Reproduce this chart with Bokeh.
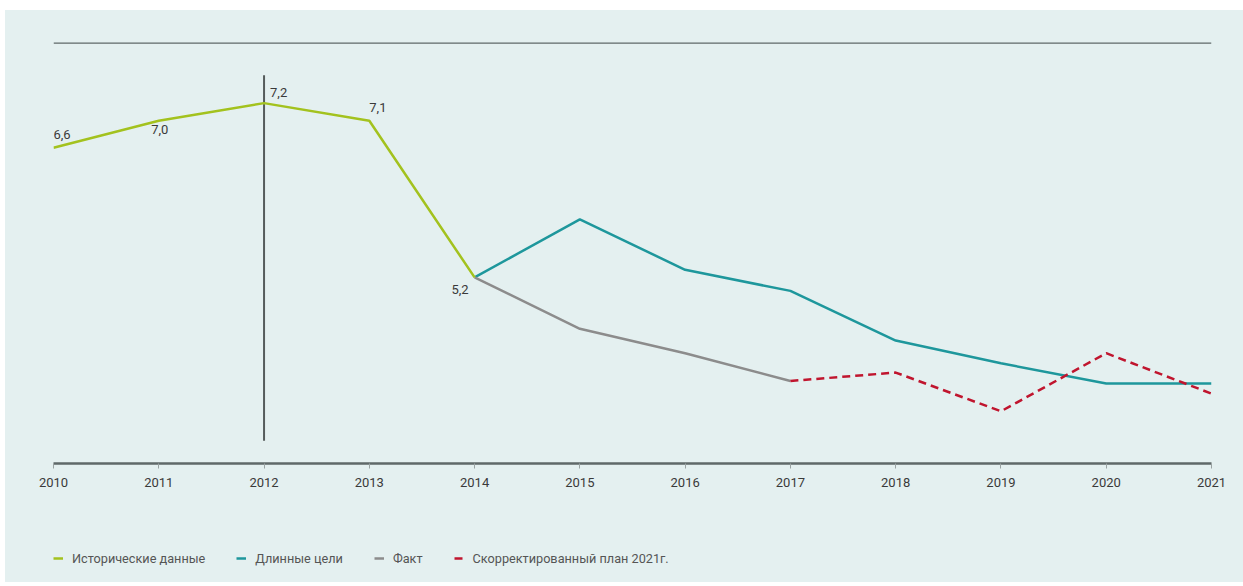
from bokeh.plotting import figure
from bokeh.models import (Range1d, FixedTicker, Span, Legend, LegendItem, ColumnDataSource, Spacer)
from bokeh.layouts import column, row
from bokeh.core.properties import value
from bokeh.embed import file_html
from bokeh.resources import INLINE

# ---- data ----
years = [2010, 2011, 2012, 2013, 2014, 2015, 2016, 2017, 2018, 2019, 2020, 2021]
hist_years = [2010, 2011, 2012, 2013, 2014]
hist_values = [6.75, 7.07, 7.28, 7.07, 5.21]
hist_labels = ["6,6", "7,0", "7,2", "7,1", "5,2"]
goal_years = [2014, 2015, 2016, 2017, 2018, 2019, 2020, 2021]
goal_values = [5.21, 5.90, 5.30, 5.05, 4.46, 4.19, 3.95, 3.95]
fact_years = [2014, 2015, 2016, 2017]
fact_values = [5.21, 4.60, 4.31, 3.98]
plan_years = [2017, 2018, 2019, 2020, 2021]
plan_values = [3.98, 4.08, 3.62, 4.31, 3.83]
marker_year = 2012
marker_range = [3.27, 7.61]
legend_names = ["Исторические данные", "Длинные цели", "Факт", "Скорректированный план 2021г."]

BG = "#E4F0F0"
FONT = "Roboto"
GREEN = "#A3C21E"
TEAL = "#1E979C"
GRAY = "#8C8C8C"
RED = "#C0152E"
STYLES = [dict(line_color=GREEN, line_width=2.5),
          dict(line_color=TEAL, line_width=2.5),
          dict(line_color=GRAY, line_width=2.5),
          dict(line_color=RED, line_width=2.5, line_dash="8 5")]

p = figure(width=1238, height=510, output_backend="svg", toolbar_location=None,
           x_range=Range1d(2010, 2021), y_range=Range1d(3.0, 8.0),
           y_axis_location=None,
           min_border_left=48, min_border_right=32, min_border_top=32, min_border_bottom=57,
           background_fill_alpha=0, border_fill_alpha=0, outline_line_color=None)
p.grid.visible = False

# top rule
p.add_layout(Span(location=8.0, dimension="width", line_color="#5F6969", line_width=2.5))
# vertical marker
p.segment(x0=[marker_year], y0=[marker_range[0]], x1=[marker_year], y1=[marker_range[1]],
          line_color="#555B5B", line_width=2)

p.line(goal_years, goal_values, **STYLES[1])
p.line(fact_years, fact_values, **STYLES[2])
p.line(plan_years, plan_values, **STYLES[3])
p.line(hist_years, hist_values, **STYLES[0])

# labels
x_off = [0, 1, 6, 0, -6]
y_off = [-9, 4, -6, -9, 8]
anchors = ["bottom_left", "top_center", "bottom_left", "bottom_left", "top_right"]
src = ColumnDataSource(dict(x=hist_years, y=hist_values, t=hist_labels, xo=x_off, yo=y_off, a=anchors))
p.text(x="x", y="y", text="t", x_offset="xo", y_offset="yo", anchor="a", source=src,
       text_font=value(FONT), text_font_size="13px", text_color="#3A3A3A")

# axis
ax = p.xaxis[0]
ax.ticker = FixedTicker(ticks=years)
ax.axis_line_color = "#5F6969"
ax.axis_line_width = 2.5
ax.major_tick_line_color = "#9AA3A3"
ax.major_tick_in = 0
ax.major_tick_out = 5
ax.minor_tick_line_color = None
ax.major_label_standoff = 9
ax.major_label_text_font = FONT
ax.major_label_text_font_size = "13px"
ax.major_label_text_color = "#3A3A3A"

# legend strip (separate figure holding only the legend)
lg = figure(width=1238, height=62, output_backend="svg", toolbar_location=None,
            x_range=Range1d(0, 1), y_range=Range1d(0, 1),
            x_axis_location=None, y_axis_location=None,
            min_border=0, background_fill_alpha=0, border_fill_alpha=0, outline_line_color=None)
lg.grid.visible = False
items = []
for name, st in zip(legend_names, STYLES):
    r = lg.line(x=[float("nan")], y=[float("nan")], **st)
    items.append(LegendItem(label=name, renderers=[r]))
legend = Legend(items=items, orientation="horizontal", location=(0, 16),
                glyph_width=10, glyph_height=16, label_standoff=9, spacing=31,
                padding=0, margin=0, border_line_color=None, background_fill_alpha=0,
                label_text_font=FONT, label_text_font_size="12.7px", label_text_color="#555555")
lg.add_layout(legend, "center")

panel = column(p, lg, styles={"background-color": BG})
layout = column(Spacer(height=10, width=1243),
                row(Spacer(width=5, height=572), panel))
open("out.html", "w").write(file_html(layout, INLINE))
